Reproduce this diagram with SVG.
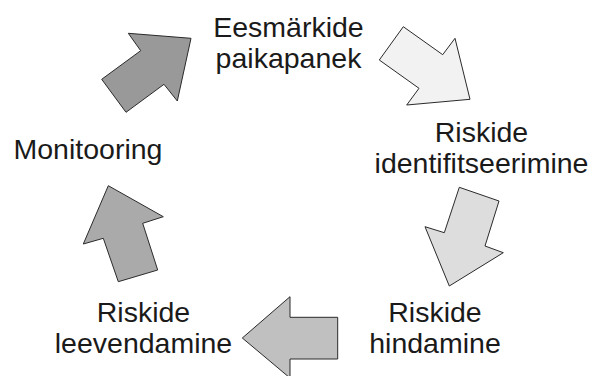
<svg xmlns="http://www.w3.org/2000/svg" width="594" height="376" viewBox="0 0 594 376">
<style>
.lbl{font-family:"Liberation Sans",Arial,sans-serif;font-size:28.5px;fill:#1a1a1a;text-anchor:middle}
.arr{stroke:#2a2a2a;stroke-width:1;stroke-linejoin:miter}
</style>
<rect width="594" height="376" fill="#ffffff"/>
<g id="connectors">
<polygon id="arrow-a" class="arr" fill="#f2f2f2" points="403.3,26.7 442.7,54.7 455,38.3 470,99.3 406.7,105 419,88.3 379.3,60"/>
<polygon id="arrow-b" class="arr" fill="#dddddd" points="459.3,187.3 499,201 485,246 503.3,252.7 449.3,286 425,226.7 444.3,232.7"/>
<polygon id="arrow-c" class="arr" fill="#c0c0c0" points="290,296.7 290,317.3 337.7,317.3 337.7,359 290,359 290,378 242.3,338"/>
<polygon id="arrow-d" class="arr" fill="#aaaaaa" points="108.3,185.7 163.3,216.7 142.7,223.3 157.7,270 118.3,281.7 103.3,238.3 83.3,244"/>
<polygon id="arrow-e" class="arr" fill="#999999" points="140.7,50.7 128.3,33.3 191,38.3 177.3,101 164,84.3 126,112.3 101.7,79.3"/>
</g>
<g id="node-eesmarkide">
<text class="lbl" x="288.5" y="37">Eesmärkide</text>
<text class="lbl" x="288.5" y="68">paikapanek</text>
</g>
<g id="node-identifitseerimine">
<text class="lbl" x="481.5" y="141.7">Riskide</text>
<text class="lbl" x="481.5" y="172.5">identifitseerimine</text>
</g>
<g id="node-hindamine">
<text class="lbl" x="435" y="322">Riskide</text>
<text class="lbl" x="435" y="353.3">hindamine</text>
</g>
<g id="node-leevendamine">
<text class="lbl" x="143.5" y="322">Riskide</text>
<text class="lbl" x="143.5" y="353.3">leevendamine</text>
</g>
<g id="node-monitooring">
<text class="lbl" x="88" y="159.3">Monitooring</text>
</g>
</svg>
